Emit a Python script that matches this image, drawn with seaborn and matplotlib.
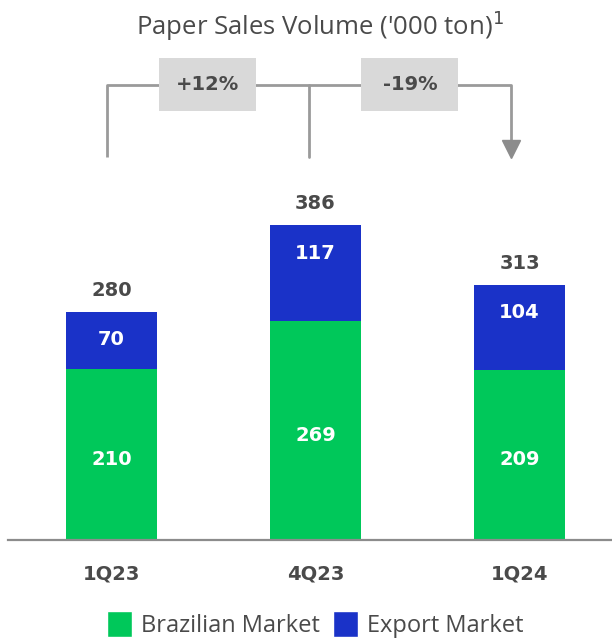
import matplotlib
matplotlib.use("Agg")
import matplotlib.pyplot as plt
from matplotlib.patches import Patch, Rectangle
import seaborn as sns
import pandas as pd

# Data
quarters = ["1Q23", "4Q23", "1Q24"]
brazilian = [210, 269, 209]
export = [70, 117, 104]
totals = [b + e for b, e in zip(brazilian, export)]
changes = ["+12%", "-19%"]

GREEN = "#00C85A"
BLUE = "#1A32C8"
TEXT = "#4a4a4a"
LINE = "#9a9a9a"
BOX = "#d9d9d9"

sns.set_theme(style="white")
plt.rcParams["font.family"] = ["Open Sans", "DejaVu Sans"]
BOLD = dict(family="DejaVu Sans", fontweight="bold", fontsize=14)

W, H, DPI = 612, 643, 100
fig = plt.figure(figsize=(W / DPI, H / DPI), dpi=DPI)

# axes: baseline at y=540 px from top, top edge at figure top
ax_left, ax_bottom = 8 / W, (H - 540) / H
ax = fig.add_axes([ax_left, ax_bottom, 1 - ax_left, 540 / H])

df = pd.DataFrame({"quarter": quarters, "brazilian": brazilian,
                   "export": export, "total": totals})

bw = 0.446
sns.barplot(data=df, x="quarter", y="total", color=BLUE, width=bw,
            saturation=1, linewidth=0, ax=ax)
sns.barplot(data=df, x="quarter", y="brazilian", color=GREEN, width=bw,
            saturation=1, linewidth=0, ax=ax)

px = 0.815  # pixels per ton unit
ax.set_xlim(-0.507, 2.453)
ax.set_ylim(0, 540 / px)

for s in ["left", "right", "top"]:
    ax.spines[s].set_visible(False)
ax.spines["bottom"].set_color("#8c8c8c")
ax.spines["bottom"].set_linewidth(1.6)
ax.set_xlabel("")
ax.set_ylabel("")
ax.set_yticks([])
ax.tick_params(axis="x", length=0, pad=18)
ax.set_xticks(range(len(quarters)))
ax.set_xticklabels(quarters, color=TEXT, **BOLD)

# value labels
for i, (b, e, t) in enumerate(zip(brazilian, export, totals)):
    ax.text(i, b / 2 - 5 / px, f"{b}", ha="center", va="center",
            color="white", **BOLD)
    ax.text(i, t - 28 / px, f"{e}", ha="center", va="center",
            color="white", **BOLD)
    ax.text(i, t + 12 / px, f"{t}", ha="center", va="bottom", color=TEXT,
            **BOLD)

# title
ax.text(1.02, (540 - 26) / px, "Paper Sales Volume ('000 ton)$^1$",
        ha="center", va="center", fontsize=18.5, color=TEXT)

# change brackets
y_top = (540 - 85) / px
y_bot = (540 - 157) / px
xs = [-0.022, 0.968, 1.958]
ax.plot([xs[0], xs[0], xs[2], xs[2]], [y_bot, y_top, y_top, (540 - 142) / px],
        color=LINE, lw=2, solid_capstyle="butt", zorder=1)
ax.plot([xs[1], xs[1]], [y_bot, y_top], color=LINE, lw=2, zorder=1)
ax.plot([xs[2]], [(540 - 149) / px], marker="v", markersize=13,
        color="#8c8c8c", zorder=2)

box_w = 97 / 204
box_h = 53 / px
box_y = (540 - 111) / px
for j, lab in enumerate(changes):
    cx = (xs[j] + xs[j + 1]) / 2
    ax.add_patch(Rectangle((cx - box_w / 2, box_y), box_w, box_h,
                           facecolor=BOX, edgecolor="none", zorder=3))
    ax.text(cx, box_y + box_h / 2, lab, ha="center", va="center",
            color=TEXT, zorder=4, **BOLD)

# legend
handles = [Patch(facecolor=GREEN, label="Brazilian Market"),
           Patch(facecolor=BLUE, label="Export Market")]
fig.legend(handles=handles, loc="lower center", bbox_to_anchor=(0.515, -0.025),
           ncol=2, frameon=False, fontsize=17, handlelength=1.05,
           handleheight=1.3, handletextpad=0.4, columnspacing=0.55,
           labelcolor=TEXT)

fig.savefig("out.png", dpi=DPI)
